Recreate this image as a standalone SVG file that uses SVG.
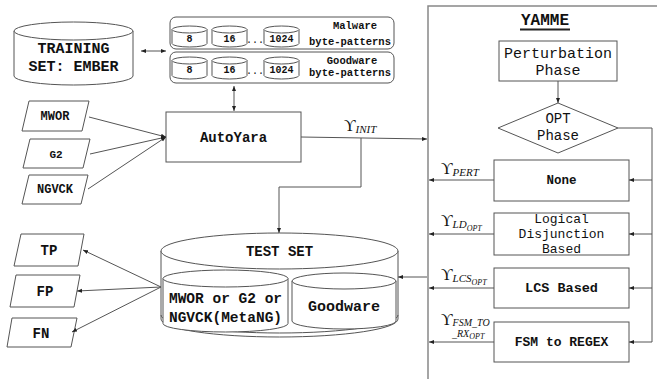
<svg xmlns="http://www.w3.org/2000/svg" width="657" height="379" viewBox="0 0 657 379">
<style>
.s{fill:none;stroke:#555;stroke-width:1}
.f{fill:#fff;stroke:#555;stroke-width:1}
.c{stroke:#555;stroke-width:1;fill:none}
.t{font-family:"Liberation Mono","Courier New",monospace;fill:#111;text-anchor:middle}
.b{font-weight:bold}
.m{font-family:"Liberation Serif","Times New Roman",serif;fill:#111}
.sm{font-size:10px}
</style>
<defs>
<marker id="ah" viewBox="0 0 10 10" refX="10" refY="5" markerWidth="5" markerHeight="5" orient="auto-start-reverse" markerUnits="userSpaceOnUse">
<path d="M0,1 L10,5 L0,9 z" fill="#222"/>
</marker>
</defs>
<rect width="657" height="379" fill="#fff"/>

<g id="training-set">
<path class="f" d="M14,31 V76 A59.5,9 0 0 0 133,76 V31"/>
<ellipse class="f" cx="73.5" cy="31" rx="59.5" ry="9"/>
<text class="t b" x="73.5" y="53" font-size="15">TRAINING</text>
<text class="t b" x="73.5" y="71" font-size="15">SET: EMBER</text>
</g>

<g id="malware-patterns">
<rect class="f" x="170" y="17" width="224" height="32" rx="6"/>
<path class="f" d="M172,29.5 V43.5 A17.5,3.5 0 0 0 207,43.5 V29.5"/><ellipse class="f" cx="189.5" cy="29.5" rx="17.5" ry="3.5"/>
<path class="f" d="M212,29.5 V43.5 A17.5,3.5 0 0 0 247,43.5 V29.5"/><ellipse class="f" cx="229.5" cy="29.5" rx="17.5" ry="3.5"/>
<path class="f" d="M264,29.5 V43.5 A17.5,3.5 0 0 0 299,43.5 V29.5"/><ellipse class="f" cx="281.5" cy="29.5" rx="17.5" ry="3.5"/>
<text class="t b sm" x="189.5" y="42">8</text>
<text class="t b sm" x="229.5" y="42">16</text>
<text class="t sm" x="255" y="43" fill="#888" font-size="7">...</text>
<text class="t b sm" x="281.5" y="42">1024</text>
<text class="t b" x="355" y="29" font-size="10.5">Malware</text>
<text class="t b" x="350" y="45" font-size="10.5">byte-patterns</text>
</g>

<g id="goodware-patterns">
<rect class="f" x="170" y="52" width="224" height="31" rx="6"/>
<path class="f" d="M172,60.5 V75.5 A17.5,3.5 0 0 0 207,75.5 V60.5"/><ellipse class="f" cx="189.5" cy="60.5" rx="17.5" ry="3.5"/>
<path class="f" d="M212,60.5 V75.5 A17.5,3.5 0 0 0 247,75.5 V60.5"/><ellipse class="f" cx="229.5" cy="60.5" rx="17.5" ry="3.5"/>
<path class="f" d="M264,60.5 V75.5 A17.5,3.5 0 0 0 299,75.5 V60.5"/><ellipse class="f" cx="281.5" cy="60.5" rx="17.5" ry="3.5"/>
<text class="t b sm" x="189.5" y="73">8</text>
<text class="t b sm" x="229.5" y="73">16</text>
<text class="t sm" x="255" y="74" fill="#888" font-size="7">...</text>
<text class="t b sm" x="281.5" y="73">1024</text>
<text class="t b" x="352" y="64" font-size="10.5">Goodware</text>
<text class="t b" x="350" y="76" font-size="10.5">byte-patterns</text>
</g>

<g id="autoyara">
<rect class="f" x="166" y="112" width="135" height="50"/>
<text class="t b" x="233.5" y="142" font-size="14">AutoYara</text>
</g>

<g id="mwor">
<polygon class="f" points="29,101 89,101 82,131 22,131"/>
<text class="t b" x="55" y="120" font-size="12">MWOR</text>
</g>
<g id="g2">
<polygon class="f" points="30,139 90,139 83,168 23,168"/>
<text class="t b" x="56" y="158" font-size="11" font-family="Liberation Sans, Arial, sans-serif">G2</text>
</g>
<g id="ngvck">
<polygon class="f" points="29,175 88,175 81,204 22,204"/>
<text class="t b" x="55" y="193" font-size="12">NGVCK</text>
</g>

<g id="test-set">
<path class="f" d="M161,251 V319 A118.5,18 0 0 0 398,319 V251"/>
<path class="s" d="M161,315 A118.5,18 0 0 0 398,315"/>
<ellipse class="f" cx="279.5" cy="251" rx="118.5" ry="18"/>
<text class="t b" x="279.5" y="256" font-size="14">TEST SET</text>
<path class="f" d="M163,278.5 V323.5 A62.5,8.5 0 0 0 288,323.5 V278.5"/>
<ellipse class="f" cx="225.5" cy="278.5" rx="62.5" ry="8.5"/>
<path class="f" d="M292,281 V321 A52,8 0 0 0 396,321 V281"/>
<ellipse class="f" cx="344" cy="281" rx="52" ry="8"/>
<text class="t b" x="225.5" y="303" font-size="14.5">MWOR or G2 or</text>
<text class="t b" x="225.5" y="322" font-size="14.5">NGVCK(MetaNG)</text>
<text class="t b" x="344" y="311" font-size="15">Goodware</text>
</g>

<g id="tp">
<polygon class="f" points="21,234 84,234 78,266 14,266"/>
<text class="t b" x="49" y="255" font-size="14">TP</text>
</g>
<g id="fp">
<polygon class="f" points="16,275 80,275 74,307 10,307"/>
<text class="t b" x="45" y="296" font-size="14">FP</text>
</g>
<g id="fn">
<polygon class="f" points="12,318 77,318 71,347 7,347"/>
<text class="t b" x="41" y="338" font-size="14">FN</text>
</g>

<g id="yamme">
<path d="M428,379 V6 H657" fill="none" stroke="#888" stroke-width="1.5"/>
<text class="t b" x="545" y="25" font-size="16">YAMME</text>
<line x1="520" y1="29.5" x2="570" y2="29.5" stroke="#222" stroke-width="2"/>
</g>

<g id="perturbation-phase">
<rect class="f" x="499" y="41" width="118" height="40"/>
<text class="t" x="558" y="58" font-size="15">Perturbation</text>
<text class="t" x="558" y="75" font-size="15">Phase</text>
</g>

<g id="opt-phase">
<polygon class="f" points="558,103 618,128 558,153 498,128"/>
<text class="t" x="558" y="123" font-size="14">OPT</text>
<text class="t" x="558" y="140" font-size="14">Phase</text>
</g>

<g id="none">
<rect class="f" x="494" y="160" width="135" height="41"/>
<text class="t b" x="561.5" y="184" font-size="12.5">None</text>
</g>
<g id="logical-disjunction">
<rect class="f" x="494" y="213" width="135" height="42"/>
<text class="t" x="561.5" y="223" font-size="13">Logical</text>
<text class="t" x="561.5" y="238" font-size="13">Disjunction</text>
<text class="t" x="561.5" y="253" font-size="13">Based</text>
</g>
<g id="lcs-based">
<rect class="f" x="494" y="268" width="135" height="40"/>
<text class="t b" x="561.5" y="292" font-size="13.5">LCS Based</text>
</g>
<g id="fsm-to-regex">
<rect class="f" x="494" y="322" width="135" height="40"/>
<text class="t b" x="561.5" y="346" font-size="13">FSM to REGEX</text>
</g>

<g id="connectors">
<line class="c" x1="141" y1="51" x2="166" y2="51" marker-start="url(#ah)" marker-end="url(#ah)"/>
<line class="c" x1="234" y1="86" x2="234" y2="111" marker-start="url(#ah)" marker-end="url(#ah)"/>
<line class="c" x1="89" y1="117" x2="166" y2="137" marker-end="url(#ah)"/>
<line class="c" x1="90" y1="154" x2="166" y2="137" marker-end="url(#ah)"/>
<line class="c" x1="88" y1="189" x2="166" y2="137" marker-end="url(#ah)"/>
<line class="c" x1="301" y1="137" x2="427" y2="139" marker-end="url(#ah)"/>
<path class="c" d="M361,138 V187 H279 V233" marker-end="url(#ah)"/>
<line class="c" x1="427" y1="277" x2="398" y2="277" marker-end="url(#ah)"/>
<line class="c" x1="161" y1="287" x2="83" y2="250" marker-end="url(#ah)"/>
<line class="c" x1="161" y1="287" x2="77" y2="291" marker-end="url(#ah)"/>
<line class="c" x1="161" y1="287" x2="72" y2="332" marker-end="url(#ah)"/>
<line class="c" x1="558" y1="81" x2="558" y2="103" marker-end="url(#ah)"/>
<path class="c" d="M618,128 H652 V342"/>
<line class="c" x1="652" y1="180" x2="629" y2="180" marker-end="url(#ah)"/>
<line class="c" x1="652" y1="234" x2="629" y2="234" marker-end="url(#ah)"/>
<line class="c" x1="652" y1="288" x2="629" y2="288" marker-end="url(#ah)"/>
<line class="c" x1="652" y1="342" x2="629" y2="342" marker-end="url(#ah)"/>
<line class="c" x1="494" y1="180" x2="429" y2="180" marker-end="url(#ah)"/>
<line class="c" x1="494" y1="234" x2="429" y2="234" marker-end="url(#ah)" stroke="#999" stroke-width="1.5"/>
<line class="c" x1="494" y1="288" x2="429" y2="288" marker-end="url(#ah)"/>
<line class="c" x1="494" y1="342" x2="429" y2="342" marker-end="url(#ah)"/>
</g>

<g id="labels">
<text class="m" x="344" y="131"><tspan font-size="16">ϒ</tspan><tspan font-size="11" font-style="italic" dy="2">INIT</tspan></text>
<text class="m" x="441" y="174"><tspan font-size="16">ϒ</tspan><tspan font-size="11" font-style="italic" dy="2">PERT</tspan></text>
<text class="m" x="441" y="226"><tspan font-size="16">ϒ</tspan><tspan font-size="11" font-style="italic" dy="2">LD</tspan><tspan font-size="8" font-style="italic" dy="3">OPT</tspan></text>
<text class="m" x="441" y="280"><tspan font-size="16">ϒ</tspan><tspan font-size="11" font-style="italic" dy="2">LCS</tspan><tspan font-size="8" font-style="italic" dy="3">OPT</tspan></text>
<text class="m" x="441" y="325"><tspan font-size="16">ϒ</tspan><tspan font-size="10" font-style="italic" dy="1">FSM_TO</tspan></text>
<text class="m" x="452" y="337"><tspan font-size="10" font-style="italic">_RX</tspan><tspan font-size="8" font-style="italic" dy="2">OPT</tspan></text>
</g>
</svg>
